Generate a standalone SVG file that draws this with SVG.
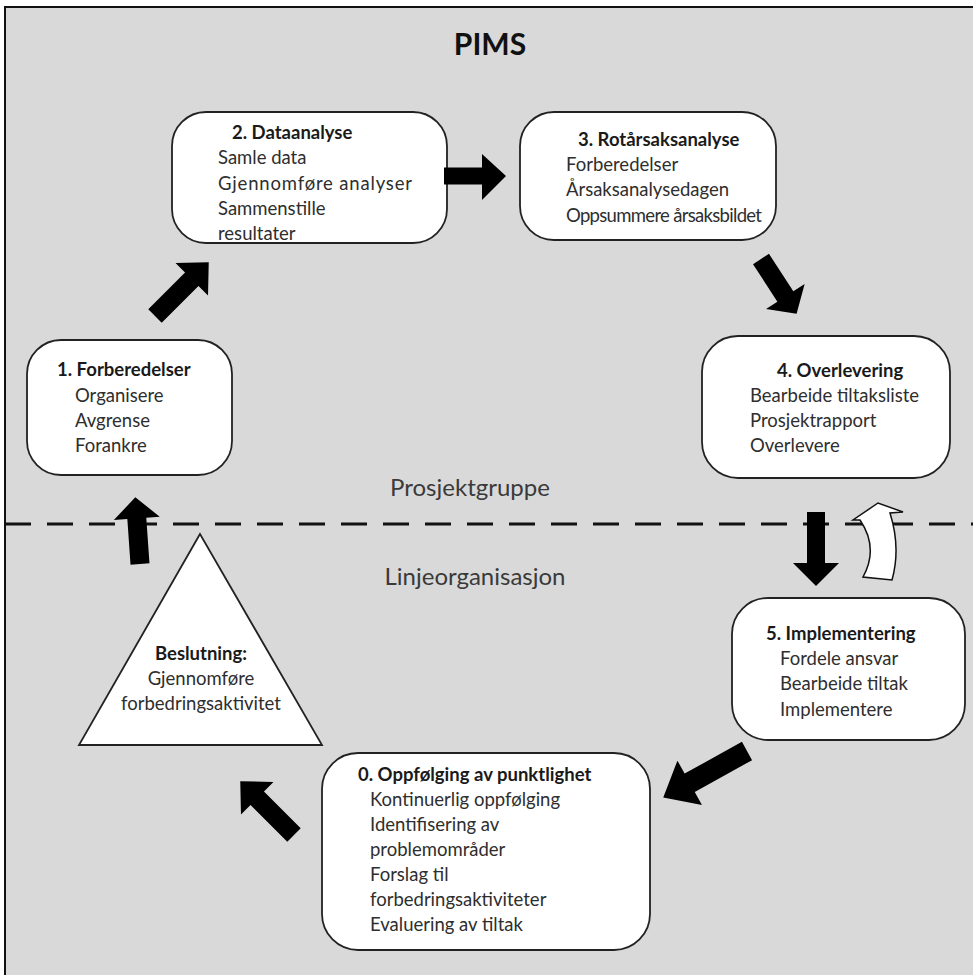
<svg xmlns="http://www.w3.org/2000/svg" width="973" height="975" viewBox="0 0 973 975">
<defs>
<style>
.bg{fill:#d9d9d9;stroke:#111;stroke-width:2}
.box{fill:#fff;stroke:#222;stroke-width:1.8}
.t{font-family:Lato,"Open Sans","Liberation Sans",sans-serif;font-size:18.5px;fill:#2e2e2e}
.b{font-weight:bold;fill:#1a1a1a}
.lbl{font-family:Lato,"Open Sans","Liberation Sans",sans-serif;font-size:24px;fill:#3a3a3a}
.arr{fill:#000}
</style>
<path id="ar" d="M0,-9.5 L52,-9.5 L52,-23 L76,0 L52,23 L52,9.5 L0,9.5 Z"/>
</defs>
<rect class="bg" x="5" y="7" width="975" height="975"/>
<text x="490" y="55" text-anchor="middle" style="font-family:Lato,'Open Sans','Liberation Sans',sans-serif;font-size:30px;font-weight:bold;fill:#111">PIMS</text>
<line x1="5" y1="524" x2="973" y2="524" stroke="#111" stroke-width="3" stroke-dasharray="26,16"/>
<text class="lbl" x="470" y="496" text-anchor="middle">Prosjektgruppe</text>
<text class="lbl" x="475" y="585" text-anchor="middle">Linjeorganisasjon</text>

<g id="n2">
<rect class="box" x="172" y="112" width="275" height="131" rx="34"/>
<text class="t b" x="232" y="139">2. Dataanalyse</text>
<text class="t" x="218" y="164">Samle data</text>
<text class="t" x="218" y="190" textLength="194">Gjennomføre analyser</text>
<text class="t" x="218" y="215">Sammenstille</text>
<text class="t" x="218" y="240">resultater</text>
</g>
<g id="n3">
<rect class="box" x="520" y="112" width="256" height="128" rx="34"/>
<text class="t b" x="578" y="146">3. Rotårsaksanalyse</text>
<text class="t" x="566" y="171">Forberedelser</text>
<text class="t" x="566" y="196">Årsaksanalysedagen</text>
<text class="t" x="566" y="222" textLength="196">Oppsummere årsaksbildet</text>
</g>
<g id="n1">
<rect class="box" x="27" y="340" width="205" height="135" rx="34"/>
<text class="t b" x="57" y="376">1. Forberedelser</text>
<text class="t" x="75" y="402">Organisere</text>
<text class="t" x="75" y="427">Avgrense</text>
<text class="t" x="75" y="452">Forankre</text>
</g>
<g id="n4">
<rect class="box" x="702" y="336" width="248" height="142" rx="36"/>
<text class="t b" x="777" y="377">4. Overlevering</text>
<text class="t" x="750" y="402">Bearbeide tiltaksliste</text>
<text class="t" x="750" y="427">Prosjektrapport</text>
<text class="t" x="750" y="452">Overlevere</text>
</g>
<g id="n5">
<rect class="box" x="732" y="598" width="233" height="142" rx="36"/>
<text class="t b" x="766" y="640">5. Implementering</text>
<text class="t" x="780" y="665">Fordele ansvar</text>
<text class="t" x="780" y="690">Bearbeide tiltak</text>
<text class="t" x="780" y="716">Implementere</text>
</g>
<g id="n0">
<rect class="box" x="322" y="753" width="328" height="197" rx="36"/>
<text class="t b" x="358" y="781">0. Oppfølging av punktlighet</text>
<text class="t" x="370" y="806">Kontinuerlig oppfølging</text>
<text class="t" x="370" y="831">Identifisering av</text>
<text class="t" x="370" y="856">problemområder</text>
<text class="t" x="370" y="881">Forslag til</text>
<text class="t" x="370" y="906">forbedringsaktiviteter</text>
<text class="t" x="370" y="931">Evaluering av tiltak</text>
</g>
<g id="beslutning">
<polygon class="box" points="200,534 79,745 322,745"/>
<text class="t b" x="201" y="660" text-anchor="middle">Beslutning:</text>
<text class="t" x="201" y="685" text-anchor="middle">Gjennomføre</text>
<text class="t" x="201" y="710" text-anchor="middle">forbedringsaktivitet</text>
</g>

<g id="connectors">
<use href="#ar" class="arr" transform="translate(155,316) rotate(-45)"/>
<path class="arr" d="M444,167.5 L482,167.5 L482,154 L506,176 L482,200 L482,184.5 L444,184.5 Z"/>
<use href="#ar" class="arr" transform="translate(761,259) rotate(57) scale(0.86,1.0)"/>
<path class="arr" d="M807,512 L825,512 L825,563 L839,563 L816,586 L793,563 L807,563 Z"/>
<path d="M863,577 Q879,548 860,520 L853,520 L878,503 L903,512 L890,513 Q901,548 892,580 Z" fill="#fff" stroke="#111" stroke-width="1.5"/>
<use href="#ar" class="arr" transform="translate(747,751) rotate(151) scale(1.26,1.1)"/>
<use href="#ar" class="arr" transform="translate(294,835) rotate(-135)"/>
<use href="#ar" class="arr" transform="translate(140,564) rotate(-94) scale(0.88,1.0)"/>
</g>
</svg>
